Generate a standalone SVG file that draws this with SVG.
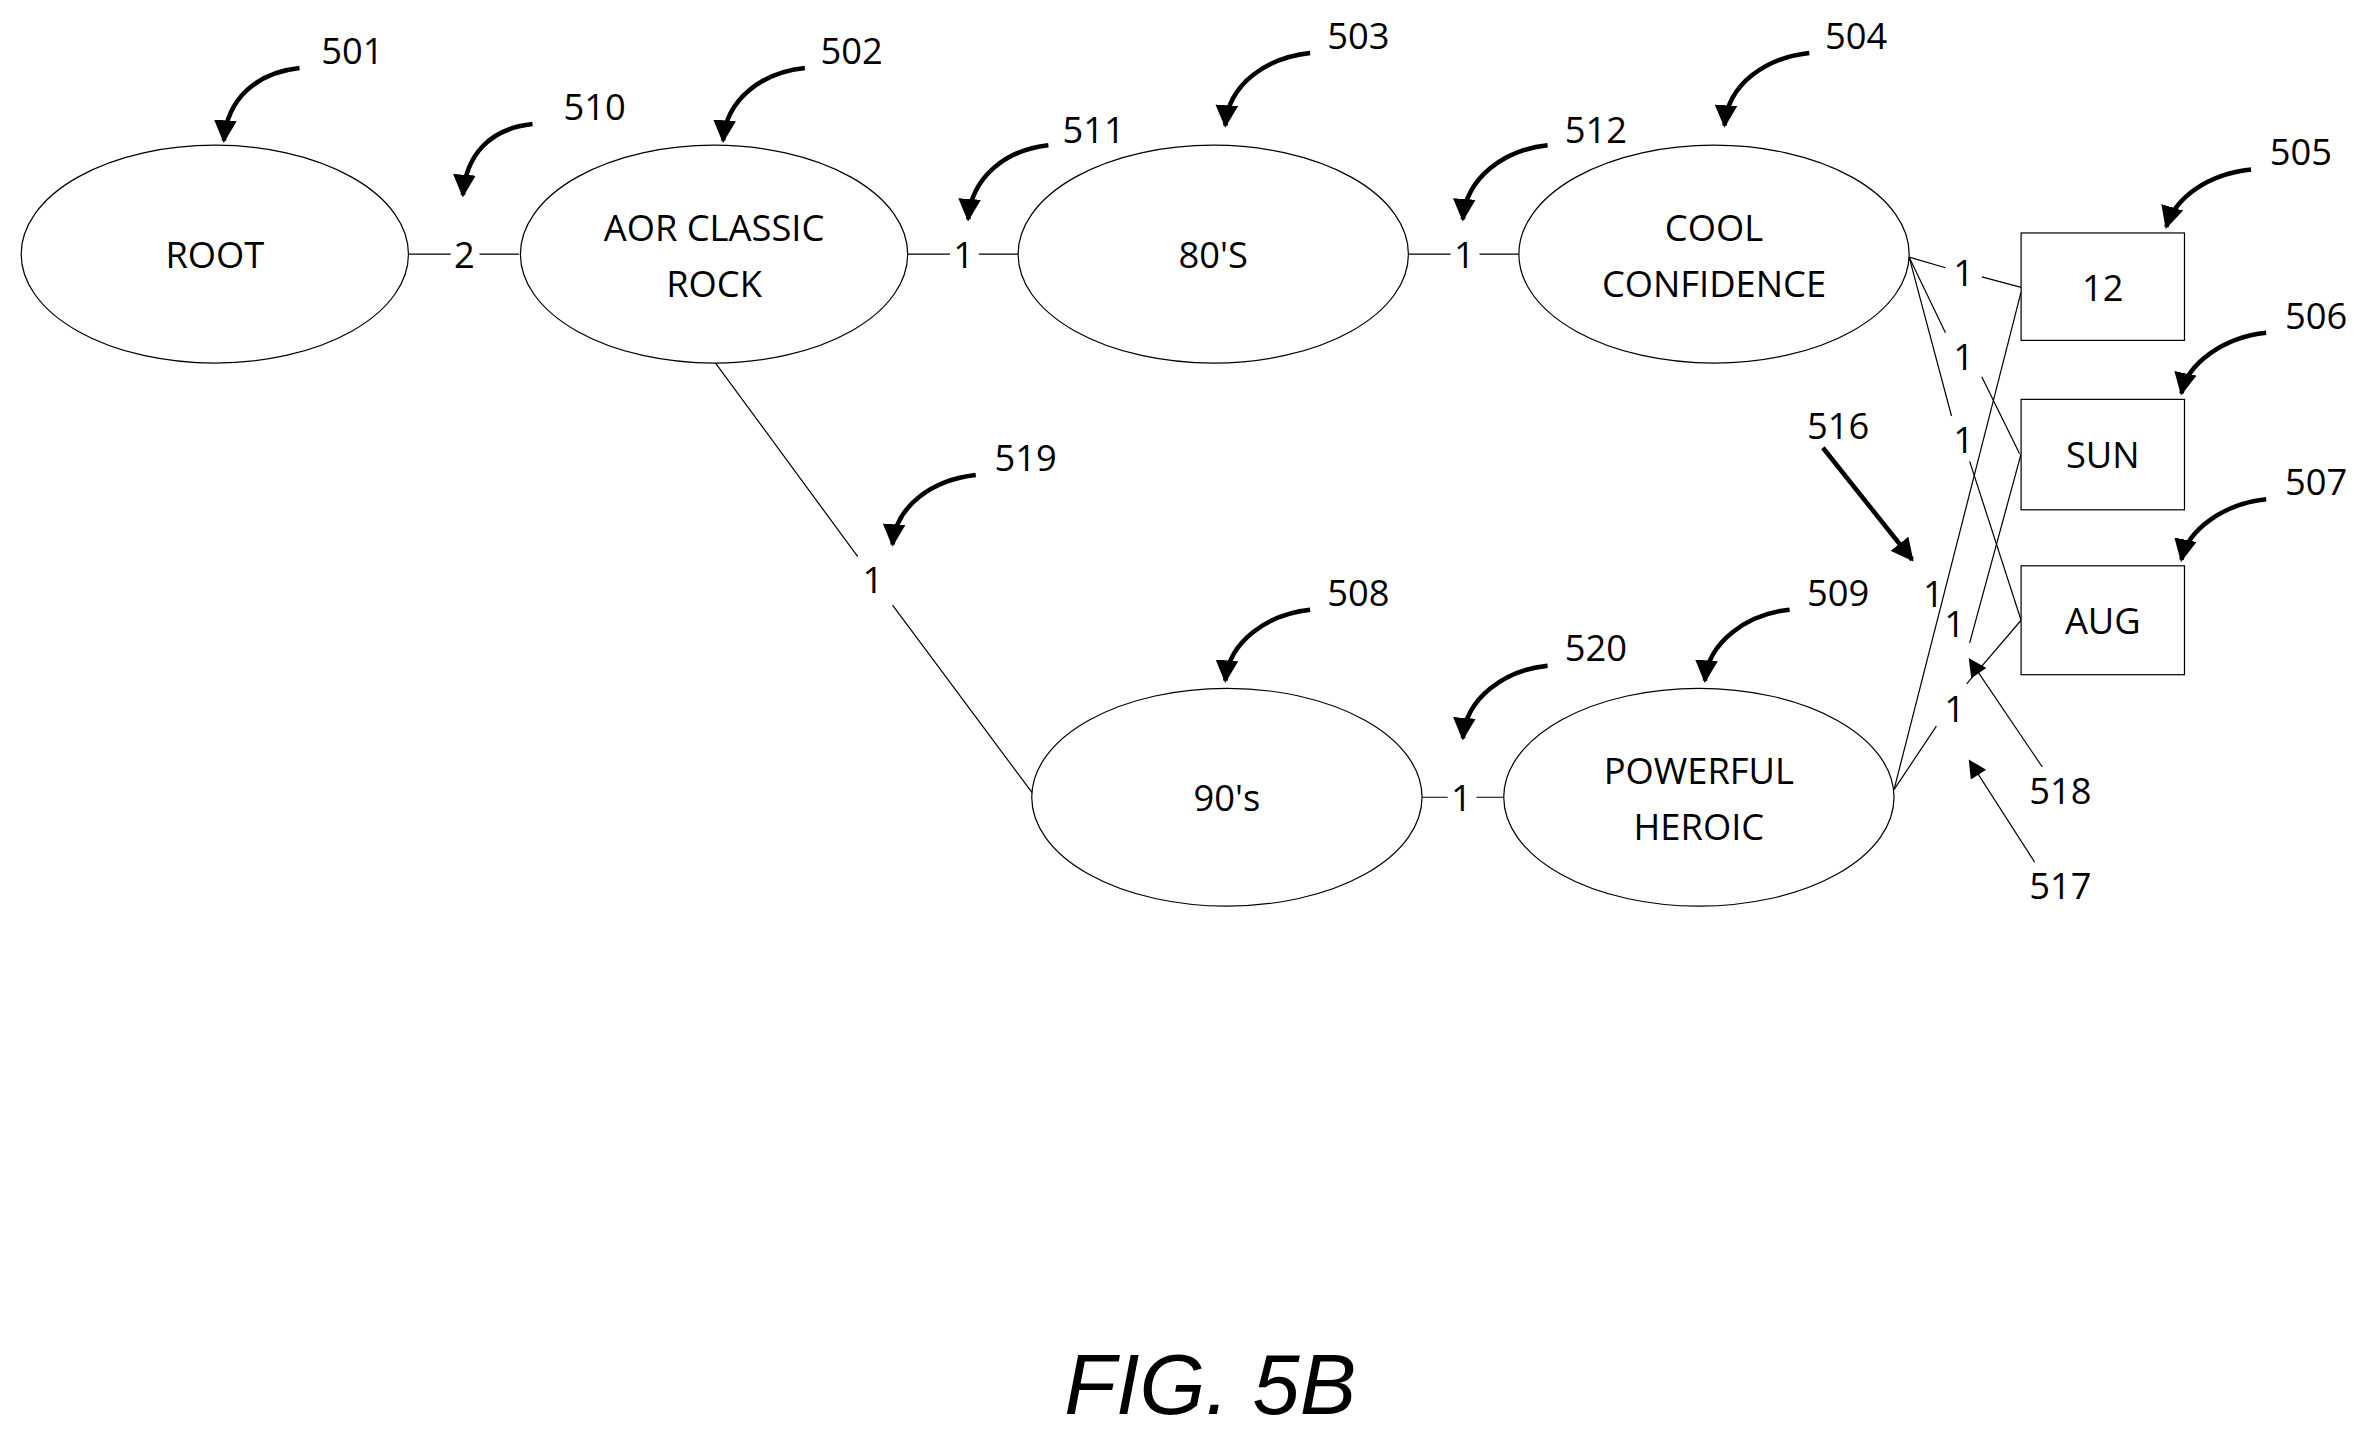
<svg xmlns="http://www.w3.org/2000/svg" width="2372" height="1440" viewBox="0 0 2372 1440">
<style>
.n{fill:#fff;stroke:#000;stroke-width:0.8}
.t{font-family:"Open Sans","Liberation Sans",sans-serif;font-size:24px;text-anchor:middle;dominant-baseline:central;fill:#000}
.c{fill:none;stroke:#000;stroke-width:0.8}
.co{fill:none;stroke:#000;stroke-width:3}
</style>
<defs>
<marker id="ah" viewBox="0 0 10 10" refX="9" refY="5" markerWidth="5" markerHeight="5" orient="auto"><path d="M0,0 L10,5 L0,10 z"/></marker>
<marker id="at" viewBox="0 0 10 10" refX="9" refY="5" markerWidth="14" markerHeight="12" markerUnits="userSpaceOnUse" orient="auto"><path d="M0,0 L10,5 L0,10 z"/></marker>
</defs>
<rect width="2372" height="1440" fill="#fff"/>
<g transform="scale(1.5128)">
<g id="connectors">
<path class="c" d="M270,168 H298 M317,168 H343"/>
<text class="t" x="307" y="168">2</text>
<path class="c" d="M600,168 H628 M647,168 H673"/>
<text class="t" x="637" y="168">1</text>
<path class="c" d="M931,168 H959 M978,168 H1004"/>
<text class="t" x="968" y="168">1</text>
<path class="c" d="M473,240 L567,368 M590,400 L683,525"/>
<text class="t" x="577" y="383">1</text>
<path class="c" d="M940,527 H957 M976,527 H994"/>
<text class="t" x="966" y="527">1</text>
<path class="c" d="M1262,170 L1286,177 M1310,183 L1336,190"/>
<text class="t" x="1298" y="180">1</text>
<path class="c" d="M1262,170 L1286,220 M1310,249 L1335,300"/>
<text class="t" x="1298" y="235">1</text>
<path class="c" d="M1262,170 L1290,275 M1302,305 L1336,410"/>
<text class="t" x="1298" y="290">1</text>
<path class="c" d="M1252,522 L1336,193"/>
<text class="t" x="1278" y="392">1</text>
<path class="c" d="M1302,425 L1336,300"/>
<text class="t" x="1292" y="412">1</text>
<path class="c" d="M1252,522 L1280,480 M1300,452 L1336,410"/>
<text class="t" x="1292" y="468">1</text>
</g>
<g id="root"><ellipse class="n" cx="142" cy="168" rx="128" ry="72"/><text class="t" x="142" y="168">ROOT</text></g>
<g id="aor"><ellipse class="n" cx="472" cy="168" rx="128" ry="72"/><text class="t" x="472" y="150">AOR CLASSIC</text><text class="t" x="472" y="187">ROCK</text></g>
<g id="n80"><ellipse class="n" cx="802" cy="168" rx="129" ry="72"/><text class="t" x="802" y="168">80'S</text></g>
<g id="cool"><ellipse class="n" cx="1133" cy="168" rx="129" ry="72"/><text class="t" x="1133" y="150">COOL</text><text class="t" x="1133" y="187">CONFIDENCE</text></g>
<g id="n90"><ellipse class="n" cx="811" cy="527" rx="129" ry="72"/><text class="t" x="811" y="527">90's</text></g>
<g id="powerful"><ellipse class="n" cx="1123" cy="527" rx="129" ry="72"/><text class="t" x="1123" y="509">POWERFUL</text><text class="t" x="1123" y="546">HEROIC</text></g>
<g id="b12"><rect class="n" x="1336" y="154" width="108" height="71"/><text class="t" x="1390" y="190">12</text></g>
<g id="bsun"><rect class="n" x="1336" y="264" width="108" height="73"/><text class="t" x="1390" y="300">SUN</text></g>
<g id="baug"><rect class="n" x="1336" y="374" width="108" height="72"/><text class="t" x="1390" y="410">AUG</text></g>
<g id="callouts">
<path class="co" marker-end="url(#ah)" d="M198,45 C170,48 150,65 148,93"/><text class="t" x="233" y="33">501</text>
<path class="co" marker-end="url(#ah)" d="M532,45 C504,48 480,65 478,93"/><text class="t" x="563" y="33">502</text>
<path class="co" marker-end="url(#ah)" d="M352,82 C324,85 308,102 306,129"/><text class="t" x="393" y="70">510</text>
<path class="co" marker-end="url(#ah)" d="M866,35 C838,38 812,55 810,83"/><text class="t" x="898" y="23">503</text>
<path class="co" marker-end="url(#ah)" d="M693,96 C665,99 642,117 640,145"/><text class="t" x="723" y="85">511</text>
<path class="co" marker-end="url(#ah)" d="M1196,35 C1168,38 1142,55 1140,83"/><text class="t" x="1227" y="23">504</text>
<path class="co" marker-end="url(#ah)" d="M1023,96 C995,99 969,117 967,145"/><text class="t" x="1055" y="85">512</text>
<path class="co" marker-end="url(#ah)" d="M1488,112 C1460,115 1438,130 1432,150"/><text class="t" x="1521" y="100">505</text>
<path class="co" marker-end="url(#ah)" d="M1498,220 C1470,223 1446,240 1442,260"/><text class="t" x="1531" y="208">506</text>
<path class="co" marker-end="url(#ah)" d="M1498,330 C1470,333 1446,350 1442,370"/><text class="t" x="1531" y="318">507</text>
<path class="co" marker-end="url(#ah)" d="M645,314 C617,317 592,334 590,360"/><text class="t" x="678" y="302">519</text>
<path class="co" marker-end="url(#ah)" d="M866,403 C838,406 812,424 810,450"/><text class="t" x="898" y="391">508</text>
<path class="co" marker-end="url(#ah)" d="M1183,403 C1155,406 1129,424 1127,450"/><text class="t" x="1215" y="391">509</text>
<path class="co" marker-end="url(#ah)" d="M1023,440 C995,443 969,461 967,488"/><text class="t" x="1055" y="428">520</text>
<path class="co" marker-end="url(#ah)" d="M1205,296 L1264,370"/><text class="t" x="1215" y="281">516</text>
<path class="c" marker-end="url(#at)" d="M1350,507 L1302,436"/><text class="t" x="1362" y="522">518</text>
<path class="c" marker-end="url(#at)" d="M1345,570 L1302,503"/><text class="t" x="1362" y="585">517</text>
</g>
<text x="800" y="935" font-family="Liberation Sans, sans-serif" font-style="italic" font-size="56" text-anchor="middle">FIG. 5B</text>
</g>
</svg>
